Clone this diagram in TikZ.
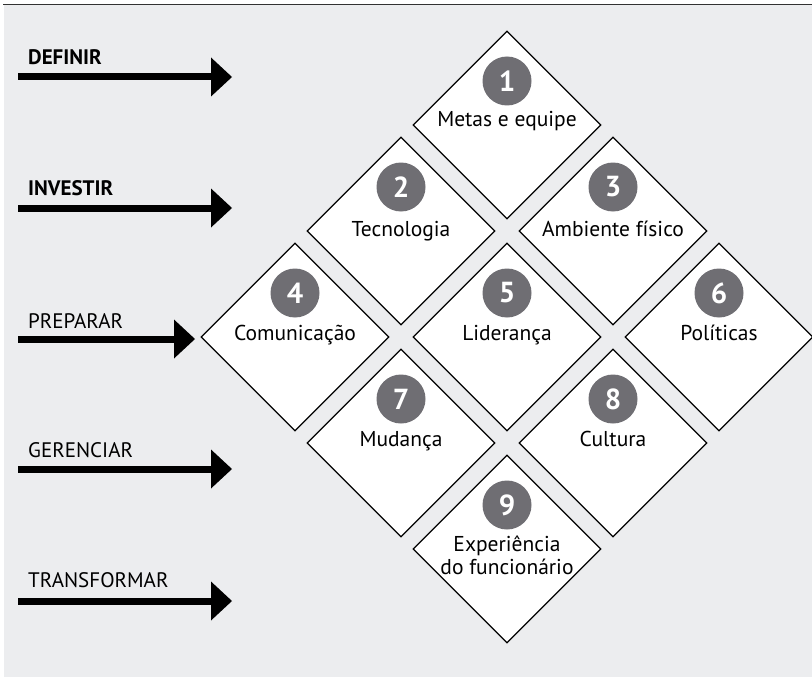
\documentclass[tikz,border=0pt]{standalone}
\usepackage{fontspec}
\setmainfont{PT Sans}
\usetikzlibrary{shapes.geometric,arrows.meta}
\definecolor{bggray}{RGB}{236,237,239}
\definecolor{numgray}{RGB}{111,110,115}
\definecolor{topline}{RGB}{50,50,50}
\tikzset{
  cell/.style={shape=diamond,aspect=1,draw=black,line width=1.3pt,fill=white,minimum width=188pt,minimum height=188pt,inner sep=0pt},
  numdot/.style={circle,fill=numgray,minimum size=49pt,inner sep=0pt,text=white,font=\fontsize{29}{29}\selectfont\bfseries},
  celltext/.style={anchor=base,align=center,font=\fontsize{21.5}{23}\selectfont,inner sep=0pt},
  phase/.style={anchor=base west,inner sep=0pt,font=\fontsize{21}{21}\selectfont},
  phasebold/.style={phase,font=\fontsize{21}{21}\selectfont\bfseries},
  bigarrow/.style={line width=7pt,-{Triangle[length=21pt,width=39pt,line width=0pt]}}
}
\begin{document}
\begin{tikzpicture}[x=1pt,y=-1pt]
\useasboundingbox (0,0) rectangle (812,677);
\fill[bggray] (4,4) rectangle (812,677);
\draw[topline,line width=1.5pt] (3,4.5) -- (812,4.5);
% diamonds
\foreach \n/\cx/\cy in {1/507/125,2/401/231,3/613/231,4/295/337,5/507/337,6/719/337,7/401/443,8/613/443,9/507/549}{
  \node[cell] (c\n) at (\cx,\cy) {};
  \node[numdot] (n\n) at (\cx,\cy-44) {\n};
}
\node[celltext] (t1) at ([yshift=-2pt]c1.center) {Metas e equipe};
\node[celltext] (t2) at ([yshift=-5pt]c2.center) {Tecnologia};
\node[celltext] (t3) at ([yshift=-5pt]c3.center) {Ambiente físico};
\node[celltext] (t4) at ([yshift=-3pt]c4.center) {Comunicação};
\node[celltext] (t5) at ([yshift=-3pt]c5.center) {Liderança};
\node[celltext] (t6) at ([yshift=-3pt]c6.center) {Políticas};
\node[celltext] (t7) at ([yshift=-3pt]c7.center) {Mudança};
\node[celltext] (t8) at ([yshift=-3pt]c8.center) {Cultura};
\node[celltext] (t9) at ([yshift=-25pt]c9.center) {Experiência\\do funcionário};
% phases
\node[phasebold] (p1) at (28,65) {DEFINIR};
\node[phasebold] (p2) at (28,195) {INVESTIR};
\node[phase] (p3) at (28,328) {PREPARAR};
\node[phase] (p4) at (28,457) {GERENCIAR};
\node[phase] (p5) at (28,587) {TRANSFORMAR};
\coordinate (a1s) at (18,77);  \coordinate (a1e) at (232,77);
\coordinate (a2s) at (18,208); \coordinate (a2e) at (232,208);
\coordinate (a3s) at (18,339); \coordinate (a3e) at (195,339);
\coordinate (a4s) at (18,469); \coordinate (a4e) at (232,469);
\coordinate (a5s) at (18,601); \coordinate (a5e) at (232,601);
\foreach \i in {1,...,5}{\draw[bigarrow] (a\i s) -- (a\i e);}
\end{tikzpicture}
\end{document}
